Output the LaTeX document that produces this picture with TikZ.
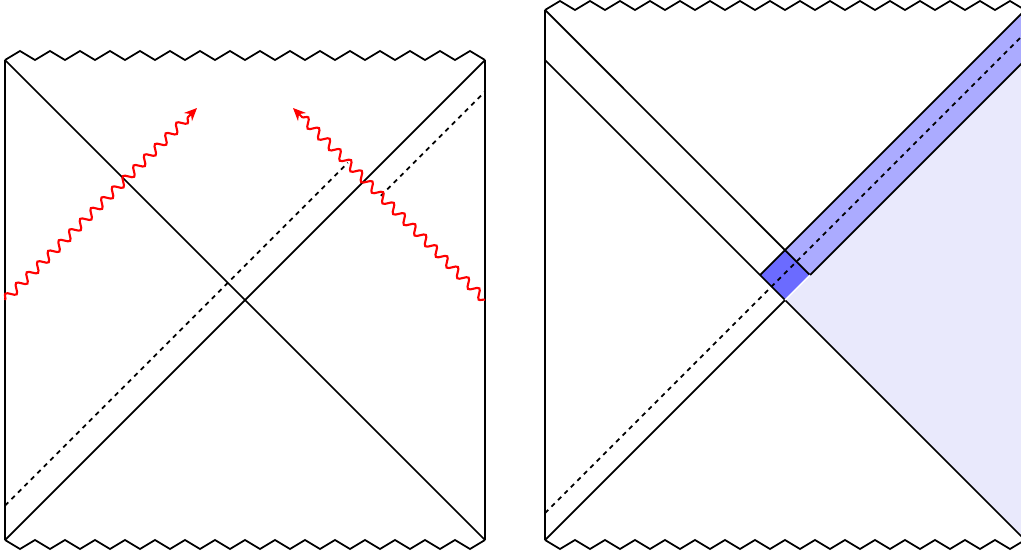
\documentclass[tikz,border=0pt]{standalone}
\usepackage{tikz}
\usetikzlibrary{arrows.meta,decorations.pathmorphing,calc}
\definecolor{bluedk}{HTML}{6B6BFF}
\definecolor{bluemd}{HTML}{ABABFF}
\definecolor{bluelt}{HTML}{E9E9FC}
\tikzset{
  edge/.style={line width=0.5pt, draw=black},
  sing/.style={line width=0.5pt, draw=black, line join=miter},
  ray/.style={line width=0.5pt, draw=black, dash pattern=on 1.3pt off 1.3pt},
  shock/.style={draw=red, line width=0.6pt, decorate,
                decoration={snake, segment length=4.3pt, amplitude=1.2pt, post length=3pt},
                -{Stealth[length=3.6pt,width=3.2pt]}},
}

\begin{document}
\begin{tikzpicture}[x=0.3cm,y=0.3cm]
  \useasboundingbox (-0.1667,-0.3333) rectangle (33.8667,18);

  % left diagram
  \coordinate (bl) at (0,0);
  \coordinate (br) at (16,0);
  \coordinate (tl) at (0,16);
  \coordinate (tr) at (16,16);
  \coordinate (rayA) at (0,1.15);
  \coordinate (rayB) at (11.425,12.575);
  \coordinate (rayC) at (12.525,11.475);
  \coordinate (rayD) at (16,14.95);
  \coordinate (shL) at (0,8);
  \coordinate (shLend) at (6.4,14.4);
  \coordinate (shR) at (16,8);
  \coordinate (shRend) at (9.6,14.4);

  \draw[edge] (bl) -- (tl);
  \draw[edge] (br) -- (tr);
  \draw[edge] (bl) -- (tr);
  \draw[edge] (tl) -- (br);
  \draw[sing] (tl) \foreach \i in {1,...,16}{ -- ++(0.5,0.3) -- ++(0.5,-0.3)};
  \draw[sing] (bl) \foreach \i in {1,...,16}{ -- ++(0.5,-0.3) -- ++(0.5,0.3)};
  \draw[ray] (rayA) -- (rayB);
  \draw[ray] (rayC) -- (rayD);
  \draw[shock] (shL) -- (shLend);
  \draw[shock] (shR) -- (shRend);

  % right diagram
  \begin{scope}[shift={(18,0)}]
    \coordinate (Bl) at (0,0);
    \coordinate (Br) at (16,0);
    \coordinate (Ml) at (0,16);
    \coordinate (Mr) at (16,16);
    \coordinate (Hl) at (0,17.667);
    \coordinate (Hr) at (16,17.667);
    \coordinate (B) at (8,8);
    \coordinate (R) at (8.833,8.833);
    \coordinate (L) at (7.167,8.833);
    \coordinate (T) at (8,9.667);
    \coordinate (rayS) at (0,0.9);
    \coordinate (rayE) at (16,16.9);

    \fill[bluelt] (B) -- (R) -- (Mr) -- (Br) -- cycle;
    \fill[bluemd] (T) -- (R) -- (Mr) -- (Hr) -- cycle;
    \fill[bluedk] (B) -- (R) -- (T) -- (L) -- cycle;

    \draw[edge] (Bl) -- (Hl);
    \draw[edge] (Br) -- (Hr);
    \draw[sing] (Hl) \foreach \i in {1,...,16}{ -- ++(0.5,0.3) -- ++(0.5,-0.3)};
    \draw[sing] (Bl) \foreach \i in {1,...,16}{ -- ++(0.5,-0.3) -- ++(0.5,0.3)};
    \draw[ray] (rayS) -- (rayE);
    \draw[edge] (Ml) -- (Br);
    \draw[edge] (Hl) -- (R);
    \draw[edge] (Bl) -- (B);
    \draw[edge] (R) -- (Mr);
    \draw[edge] (L) -- (Hr);
    \draw[white, line width=0.4pt] (B) -- (R);
  \end{scope}
\end{tikzpicture}
\end{document}
